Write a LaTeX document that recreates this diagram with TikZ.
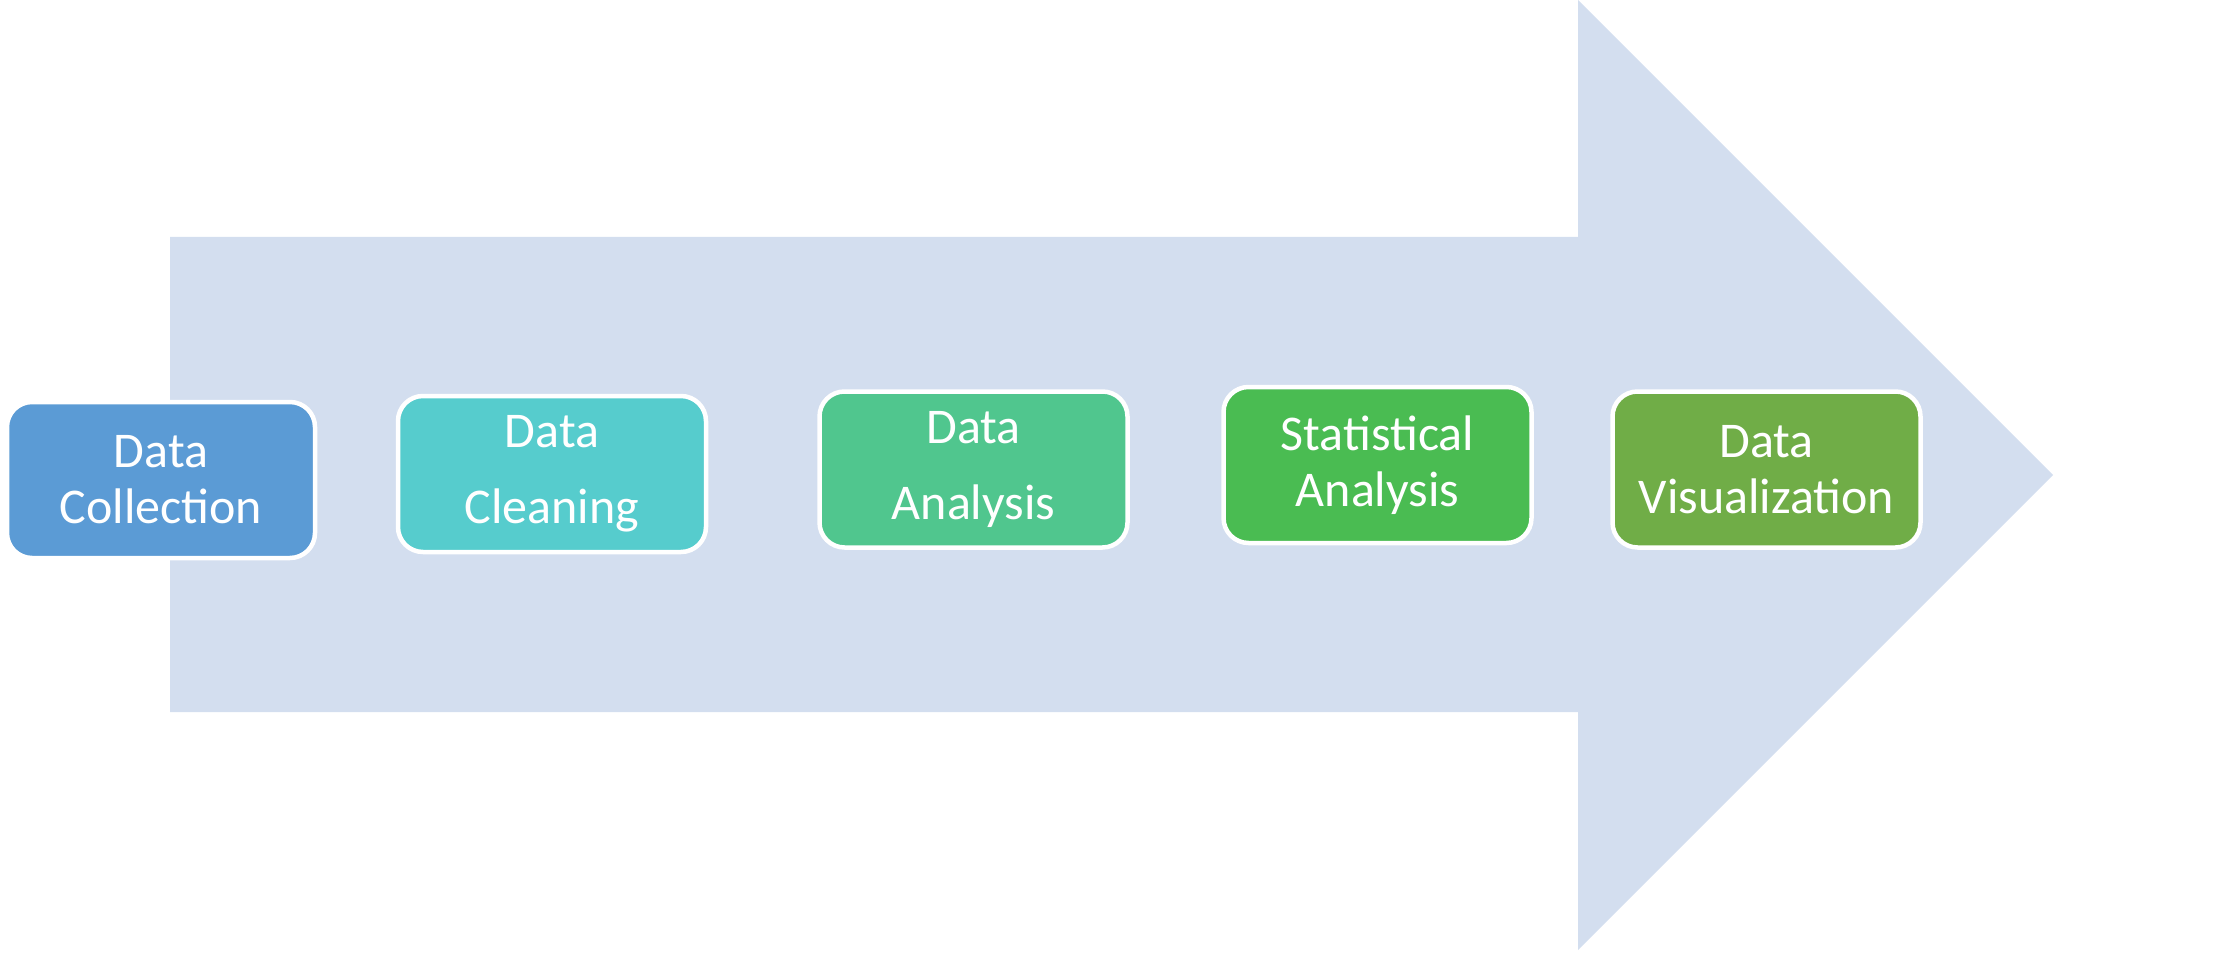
\documentclass[tikz,border=0pt]{standalone}
\usepackage{fontspec}
\setmainfont{Carlito}
\usepackage{tikz}

\definecolor{band}{HTML}{D3DEEF}
\definecolor{collectblue}{HTML}{5B9BD5}
\definecolor{cleancyan}{HTML}{56CCCD}
\definecolor{analysisgreen}{HTML}{50C68E}
\definecolor{statgreen}{HTML}{4ABC52}
\definecolor{visgreen}{HTML}{70AD47}

\begin{document}
\begin{tikzpicture}[x=0.5pt,y=-0.5pt]
\tikzstyle{every node}=[font=\fontsize{25}{28}\selectfont]
\tikzstyle{stage}=[draw=white,line width=2.25pt,rounded corners=12.5pt,text=white,align=center,
  minimum width=154pt,minimum height=78pt,inner sep=0pt]
\useasboundingbox(0,0)rectangle(2227,957);
% big arrow behind the stages
\fill[band](170,237)--(1578,237)--(1578,0)--(2053,475)--(1578,950)--(1578,712)--(170,712)--cycle;
\node[stage,fill=collectblue](collect)at(161,480){Data\\Collection};
\node[stage,fill=cleancyan](clean)at(552,474){Data\\[10pt]Cleaning};
\node[stage,fill=analysisgreen](analysis)at(973.5,469.5){Data\\[10pt]Analysis};
\node[stage,fill=statgreen](stat)at(1377.5,465){Statistical\\Analysis};
\node[stage,fill=visgreen](vis)at(1766.5,469.5){Data\\Visualization};
\end{tikzpicture}
\end{document}
